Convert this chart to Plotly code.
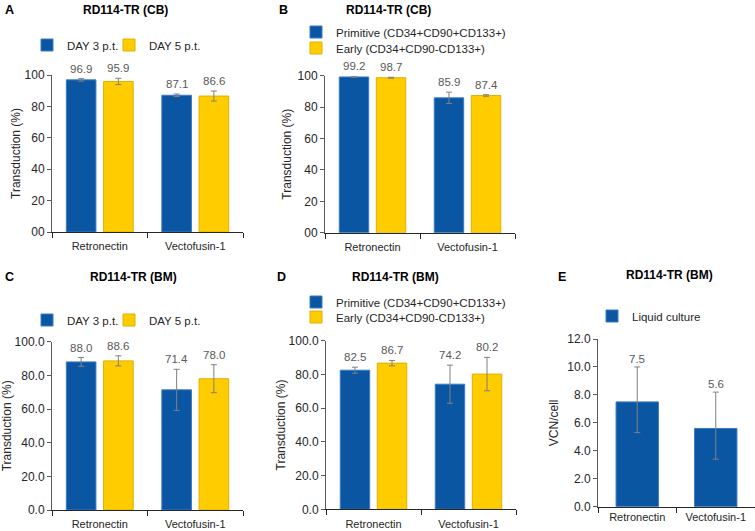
import plotly.graph_objects as go

# ---------------- data ----------------
categories = ["Retronectin", "Vectofusin-1"]

# Panel A: RD114-TR (CB), transduction by day
a_day3 = [96.9, 87.1]
a_day3_err = [0.8, 0.8]
a_day5 = [95.9, 86.6]
a_day5_err = [2.0, 3.2]

# Panel B: RD114-TR (CB), by subpopulation
b_prim = [99.2, 85.9]
b_prim_err = [0.3, 3.6]
b_early = [98.7, 87.4]
b_early_err = [0.3, 0.5]

# Panel C: RD114-TR (BM), by day
c_day3 = [88.0, 71.4]
c_day3_err = [2.6, 12.2]
c_day5 = [88.6, 78.0]
c_day5_err = [3.0, 8.3]

# Panel D: RD114-TR (BM), by subpopulation
d_prim = [82.5, 74.2]
d_prim_err = [1.8, 11.3]
d_early = [86.7, 80.2]
d_early_err = [1.6, 9.9]

# Panel E: RD114-TR (BM), VCN/cell
e_vcn = [7.5, 5.6]
e_vcn_err_plus = [2.5, 2.6]
e_vcn_err_minus = [2.2, 2.2]

ticks_pct = [0, 20, 40, 60, 80, 100]
ticks_pct_text_ab = ["00", "20", "40", "60", "80", "100"]
ticks_pct_text_cd = ["0.0", "20.0", "40.0", "60.0", "80.0", "100.0"]
ticks_vcn = [0, 2, 4, 6, 8, 10, 12]
ticks_vcn_text = ["0.0", "2.0", "4.0", "6.0", "8.0", "10.0", "12.0"]

# ---------------- style ----------------
W, H = 755, 531
BLUE = "#0B56A3"
BLUE_EDGE = "#3B7CC4"
YEL = "#FFCC00"
YEL_EDGE = "#E0B000"
ERR = "#808080"
LBL = "#595959"
FONT = "Liberation Sans, Arial, sans-serif"


def px_x(p):
    return p / W


def px_y(p):
    return 1 - p / H


fig = go.Figure()

# name: (xaxis, yaxis, x px range, y px (zero, top), y-title standoff, x-label standoff)
panels = {
    "A": ("x", "y", (52, 243), (232, 75), 1, 4),
    "B": ("x2", "y2", (325, 515), (232.7, 75.7), 3, 4),
    "C": ("x3", "y3", (52, 243), (510, 341.7), 6, 4),
    "D": ("x4", "y4", (326, 516), (509.3, 340.7), 0, 4),
    "E": ("x5", "y5", (598, 755), (506.7, 339), 6, 0),
}

BW = 0.31
OFF_L = -0.35
OFF_R = 0.04


def add_bar(name, vals, errp, errm, color, edge, xa, ya, legend, offset, width, shift=10):
    fig.add_trace(go.Bar(
        x=categories, y=vals, name=name,
        marker=dict(color=color, line=dict(color=edge, width=1)),
        error_y=dict(type="data", array=errp, arrayminus=errm, symmetric=False,
                     color=ERR, thickness=1, width=3),
        offset=offset, width=width, showlegend=True,
        xaxis=xa, yaxis=ya, legend=legend,
    ))
    for i, v in enumerate(vals):
        fig.add_annotation(
            x=i + offset + width / 2, y=v + errp[i], xref=xa, yref=ya,
            text=f"{v:.1f}", showarrow=False, yanchor="middle", yshift=shift,
            font=dict(family=FONT, size=11.5, color=LBL),
        )


add_bar("DAY 3 p.t.", a_day3, a_day3_err, a_day3_err, BLUE, BLUE_EDGE, "x", "y", "legend", OFF_L, BW)
add_bar("DAY 5 p.t.", a_day5, a_day5_err, a_day5_err, YEL, YEL_EDGE, "x", "y", "legend2", OFF_R, BW)
add_bar("Primitive (CD34+CD90+CD133+)", b_prim, b_prim_err, b_prim_err, BLUE, BLUE_EDGE, "x2", "y2", "legend3", OFF_L, BW)
add_bar("Early (CD34+CD90-CD133+)", b_early, b_early_err, b_early_err, YEL, YEL_EDGE, "x2", "y2", "legend4", OFF_R, BW)
add_bar("DAY 3 p.t.", c_day3, c_day3_err, c_day3_err, BLUE, BLUE_EDGE, "x3", "y3", "legend5", OFF_L, BW)
add_bar("DAY 5 p.t.", c_day5, c_day5_err, c_day5_err, YEL, YEL_EDGE, "x3", "y3", "legend6", OFF_R, BW)
add_bar("Primitive (CD34+CD90+CD133+)", d_prim, d_prim_err, d_prim_err, BLUE, BLUE_EDGE, "x4", "y4", "legend7", OFF_L, BW)
add_bar("Early (CD34+CD90-CD133+)", d_early, d_early_err, d_early_err, YEL, YEL_EDGE, "x4", "y4", "legend8", OFF_R, BW)
add_bar("Liquid culture", e_vcn, e_vcn_err_plus, e_vcn_err_minus, BLUE, BLUE_EDGE, "x5", "y5", "legend9", -0.27, 0.54, shift=8)

layout = dict(
    width=W, height=H, margin=dict(l=0, r=0, t=0, b=0, autoexpand=False),
    paper_bgcolor="white", plot_bgcolor="white",
    barmode="overlay", showlegend=True,
    font=dict(family=FONT, size=11, color="#262626"),
)

ytick_cfg = {
    "A": (ticks_pct, ticks_pct_text_ab, [0, 100], "Transduction (%)"),
    "B": (ticks_pct, ticks_pct_text_ab, [0, 100], "Transduction (%)"),
    "C": (ticks_pct, ticks_pct_text_cd, [0, 100], "Transduction (%)"),
    "D": (ticks_pct, ticks_pct_text_cd, [0, 100], "Transduction (%)"),
    "E": (ticks_vcn, ticks_vcn_text, [0, 12], "VCN/cell"),
}

for key, (xa, ya, (x0, x1), (yz, yt), ystand, xstand) in panels.items():
    xk = "xaxis" + xa[1:]
    yk = "yaxis" + ya[1:]
    tv, tt, rng, ttl = ytick_cfg[key]
    layout[xk] = dict(
        domain=[px_x(x0), min(px_x(x1), 1.0)], anchor=ya, type="category",
        range=[-0.5, 1.5], showline=True, linecolor="#262626", linewidth=1,
        ticks="outside", tickson="boundaries", ticklen=5, tickcolor="#262626",
        showgrid=False, zeroline=False, tickfont=dict(size=11, color="#262626"),
        ticklabelstandoff=xstand, automargin=False, fixedrange=True,
    )
    layout[yk] = dict(
        domain=[px_y(yz), px_y(yt)], anchor=xa, range=rng,
        tickvals=tv, ticktext=tt, showline=True, linecolor="#595959", linewidth=1,
        ticks="outside", ticklen=4, tickcolor="#595959", showgrid=False, zeroline=False,
        tickfont=dict(size=12, color="#262626"),
        title=dict(text=ttl, font=dict(size=12, color="#262626"), standoff=ystand),
        automargin=False, fixedrange=True,
    )

leg_common = dict(bgcolor="rgba(0,0,0,0)", borderwidth=0, visible=True,
                  font=dict(family=FONT, size=11.5, color="#262626"),
                  itemclick=False, itemdoubleclick=False, tracegroupgap=0,
                  orientation="v", xanchor="left", yanchor="middle")

# (legend id, text-start px x, row center px y)
legend_pos = [
    ("legend", 68, 45), ("legend2", 150, 45),
    ("legend3", 337, 32), ("legend4", 337, 48),
    ("legend5", 68, 320), ("legend6", 150, 320),
    ("legend7", 337, 302), ("legend8", 337, 317),
    ("legend9", 633, 316),
]
for lid, tx, ty in legend_pos:
    layout[lid] = dict(leg_common, x=px_x(tx - 41), y=px_y(ty))

fig.update_layout(**layout)

# Panel letters and titles
titles = [
    ("A", 3, 10, "RD114-TR (CB)", 125, 10),
    ("B", 277, 10, "RD114-TR (CB)", 388, 10),
    ("C", 3, 277, "RD114-TR (BM)", 133, 277),
    ("D", 275, 277, "RD114-TR (BM)", 396, 277),
    ("E", 556, 277, "RD114-TR (BM)", 669, 275),
]
for letter, lx, ly, ttl, tx, ty in titles:
    fig.add_annotation(x=px_x(lx), y=px_y(ly), xref="paper", yref="paper",
                       text=f"<b>{letter}</b>", showarrow=False, xanchor="left", yanchor="middle",
                       font=dict(family=FONT, size=12.5, color="black"))
    fig.add_annotation(x=px_x(tx), y=px_y(ty), xref="paper", yref="paper",
                       text=f"<b>{ttl}</b>", showarrow=False, xanchor="center", yanchor="middle",
                       font=dict(family=FONT, size=12, color="black"))

fig.write_html("out.html", config={"displayModeBar": False},
               post_script="document.body.style.margin='0';document.body.style.padding='0';")
